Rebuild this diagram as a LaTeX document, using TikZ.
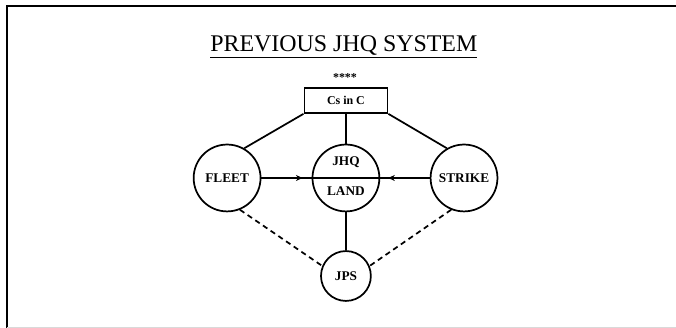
\documentclass[tikz,border=0pt]{standalone}
\usepackage{fontspec}
\setmainfont{Liberation Serif}
\usetikzlibrary{arrows.meta,decorations.markings}

\begin{document}
\begin{tikzpicture}[
  station/.style={draw, circle, line width=1.3pt, minimum size=1.77cm, inner sep=0pt, font=\bfseries},
  link/.style={line width=1.3pt},
  weaklink/.style={line width=1.3pt, dash pattern=on 4pt off 3pt},
  tipnear/.style={postaction={decorate}, decoration={markings,
      mark=at position #1 with {\arrow{Stealth[length=5pt,width=4.5pt]}}}}
]
  % Frame
  \useasboundingbox (0,0) rectangle (17.89,8.68);
  \draw[line width=1.4pt] (0.185,0) -- (0.185,8.52) -- (17.89,8.52);
  \draw[gray!30, line width=0.6pt] (0.185,0.02) -- (17.89,0.02);

  % Heading
  \node[font=\fontsize{18}{21}\selectfont] (title) at (9.10,7.45) {\underline{PREVIOUS JHQ SYSTEM}};
  \node[font=\bfseries\small] (stars) at (9.13,6.64) {****};
  \node[draw, line width=1.3pt, minimum width=2.2cm, minimum height=0.66cm, font=\bfseries\small] (cinc) at (9.155,6.02) {Cs in C};

  % Commands
  \node[station] (fleet) at (6.01,3.97) {FLEET};
  \node[station] (jhq) at (9.155,3.97) {};
  \node[font=\bfseries] (jhqtop) at ([yshift=0.42cm]jhq.center) {JHQ};
  \node[font=\bfseries] (jhqlow) at ([yshift=-0.35cm]jhq.center) {LAND};
  \node[station] (strike) at (12.28,3.97) {STRIKE};
  \node[station, minimum size=1.32cm] (jps) at (9.155,1.376) {JPS};

  % Links from the top
  \draw[link] (cinc.south west) -- (fleet.60);
  \draw[link] (cinc.south) -- (jhq.north);
  \draw[link] (cinc.south east) -- (strike.120);

  % Reporting lines into JHQ
  \draw[link] (jhq.west) -- (jhq.east);
  \draw[link, tipnear=-0.24cm] (fleet.east) -- (jhq.west);
  \draw[link, tipnear=-0.21cm] (strike.west) -- (jhq.east);
  \draw[link] (jhq.south) -- (jps.north);

  % Dotted links to JPS
  \draw[weaklink] (fleet.-68) -- (jps.157);
  \draw[weaklink] (strike.-112) -- (jps.23);
\end{tikzpicture}
\end{document}
